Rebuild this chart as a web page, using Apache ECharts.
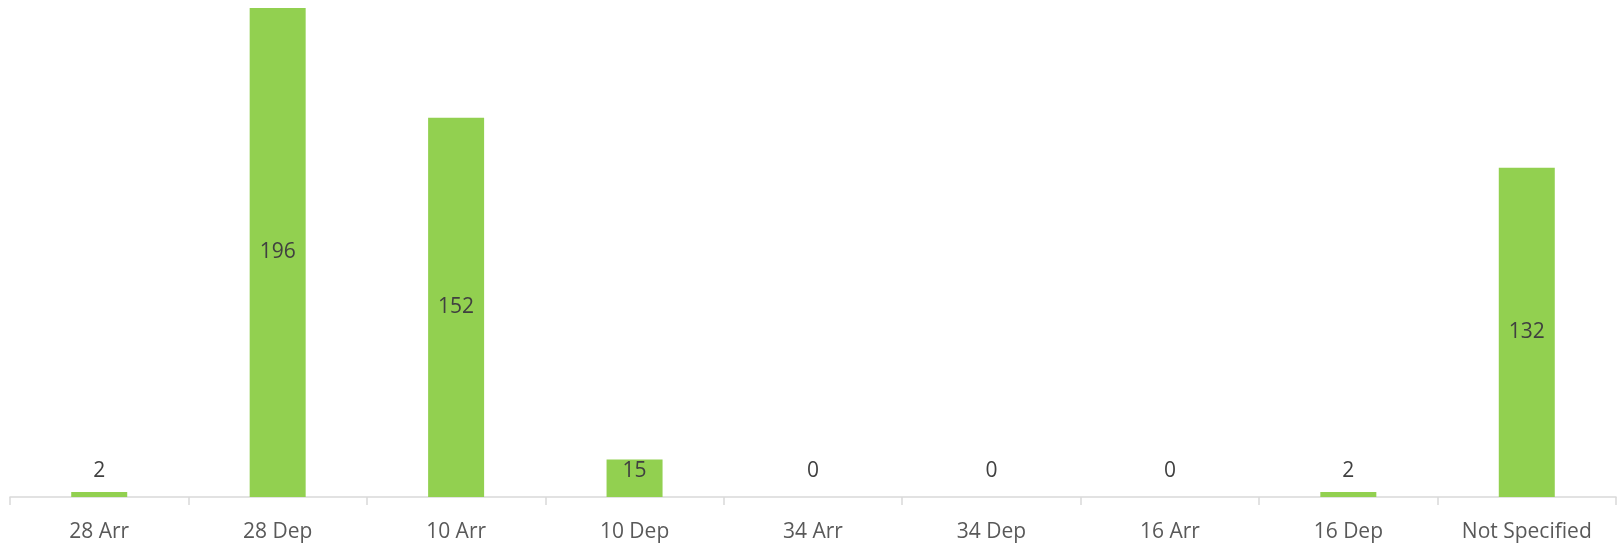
<!DOCTYPE html>
<html>
<head>
<meta charset="utf-8">
<script src="https://cdn.jsdelivr.net/npm/echarts@6/dist/echarts.min.js"></script>
<style>
html,body{margin:0;padding:0;background:#fff;}
#c{width:1619px;height:544px;}
</style>
</head>
<body>
<div id="c"></div>
<script>
const categories = ['28 Arr','28 Dep','10 Arr','10 Dep','34 Arr','34 Dep','16 Arr','16 Dep','Not Specified'];
const values = [2, 196, 152, 15, 0, 0, 0, 2, 132];

function labelFor(v) {
  if (v >= 50) return { position: 'inside' };
  if (v >= 10) return { position: 'insideTop', distance: 1 };
  if (v > 0) return { position: 'top', distance: 10 };
  return { position: 'top', distance: 15 };
}

const chart = echarts.init(document.getElementById('c'), null, { renderer: 'canvas' });
chart.setOption({
  animation: false,
  backgroundColor: '#ffffff',
  grid: { left: 10, right: 3, top: 8, bottom: 47, containLabel: false },
  xAxis: {
    type: 'category',
    data: categories,
    boundaryGap: true,
    axisLine: { show: true, lineStyle: { color: '#d9d9d9', width: 1.5 } },
    axisTick: { show: true, length: 8, alignWithLabel: false, lineStyle: { color: '#d9d9d9', width: 1.5 } },
    axisLabel: { color: '#595959', fontFamily: 'Open Sans', fontSize: 21, margin: 25, interval: 0 },
    splitLine: { show: false }
  },
  yAxis: {
    type: 'value',
    min: 0,
    max: 196,
    show: false,
    splitLine: { show: false }
  },
  series: [{
    type: 'bar',
    barWidth: 56,
    itemStyle: { color: '#92D050' },
    label: { show: true, color: '#404040', fontFamily: 'Open Sans', fontSize: 21 },
    data: values.map(v => ({ value: v, label: labelFor(v) }))
  }]
});
</script>
</body>
</html>
